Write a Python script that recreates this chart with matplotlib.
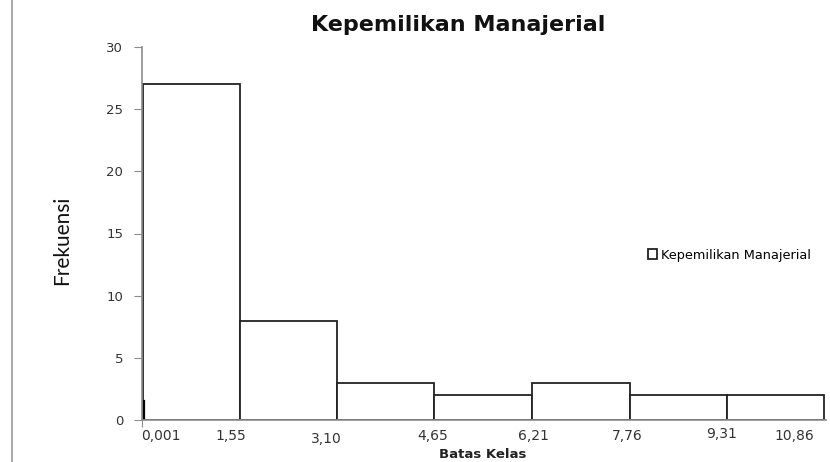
import matplotlib.pyplot as plt
from matplotlib.lines import Line2D
from matplotlib.transforms import ScaledTranslation

# batas kelas dan frekuensi tiap kelas
batas = [0.001, 1.55, 3.10, 4.65, 6.21, 7.76, 9.31, 10.86]
label_batas = ["0,001", "1,55", "3,10", "4,65", "6,21", "7,76", "9,31", "10,86"]
frekuensi = [27, 8, 3, 2, 3, 2, 2]
frek_kecil = 1.5

plt.rcParams['font.family'] = ['DejaVu Sans']

fig = plt.figure(figsize=(8.3, 4.62), dpi=100)
ax = fig.add_axes([142/830, 42/462, 684/830, 373/462])

lebar = [batas[i+1] - batas[i] for i in range(len(frekuensi))]
ax.bar(batas[:-1], frekuensi, width=lebar, align='edge', color='white',
       edgecolor='#222222', linewidth=1.3, label='Kepemilikan Manajerial')

# garis kecil di dekat sumbu
geser = ScaledTranslation(1.5/100, 0, fig.dpi_scale_trans)
ax.plot([batas[0], batas[0]], [0, frek_kecil], color='black', lw=1.6,
        transform=ax.transData + geser)

skala = (batas[-1] - batas[1]) / (824 - 240)
ax.set_xlim(batas[1] - 98*skala, batas[-1] + 2*skala)
ax.set_ylim(0, 30)
ax.set_yticks(range(0, 31, 5))

for s in ['top', 'right']:
    ax.spines[s].set_visible(False)
for s in ['left', 'bottom']:
    ax.spines[s].set_color('#8c8c8c')
    ax.spines[s].set_linewidth(1.2)

ax.tick_params(axis='y', length=6, color='#8c8c8c', labelsize=9.5,
               labelcolor='#333333', pad=7.5)
ax.set_xticks([ax.get_xlim()[0]])
ax.set_xticklabels([''])
ax.tick_params(axis='x', length=5, color='#8c8c8c')

# label batas kelas di bawah sumbu
geser_x = [18, -9, -11, -2, 1, -2, -5, -30]
geser_y = [0, 0, -3, 0, 0, 0, 2, 0]
for b, t, dx, dy in zip(batas, label_batas, geser_x, geser_y):
    off = ScaledTranslation(dx/100, (dy - 9)/100, fig.dpi_scale_trans)
    ax.text(b, 0, t, transform=ax.get_xaxis_transform() + off,
            ha='center', va='top', fontsize=10, color='#333333')

fig.text(458/830, 1 - 25/462, 'Kepemilikan Manajerial', ha='center',
         va='center', fontsize=16, fontweight='bold', color='#111111')
fig.text(62/830, 1 - 240/462, 'Frekuensi', ha='center', va='center',
         rotation=90, fontsize=15, color='#111111', family=['Lato'])
fig.text(483/830, 1 - 454/462, 'Batas Kelas', ha='center', va='center',
         fontsize=9.5, fontweight='bold', color='#222222')

ax.legend(loc='center left', bbox_to_anchor=(648/830, 1 - 255/462),
          bbox_transform=fig.transFigure, frameon=False, fontsize=9.3,
          handlelength=0.7, handleheight=0.7, handletextpad=0.3,
          borderpad=0, borderaxespad=0)

fig.add_artist(Line2D([12/830, 12/830], [0, 1], color='#9a9a9a', lw=1.2))

fig.savefig('out.png', dpi=100)
